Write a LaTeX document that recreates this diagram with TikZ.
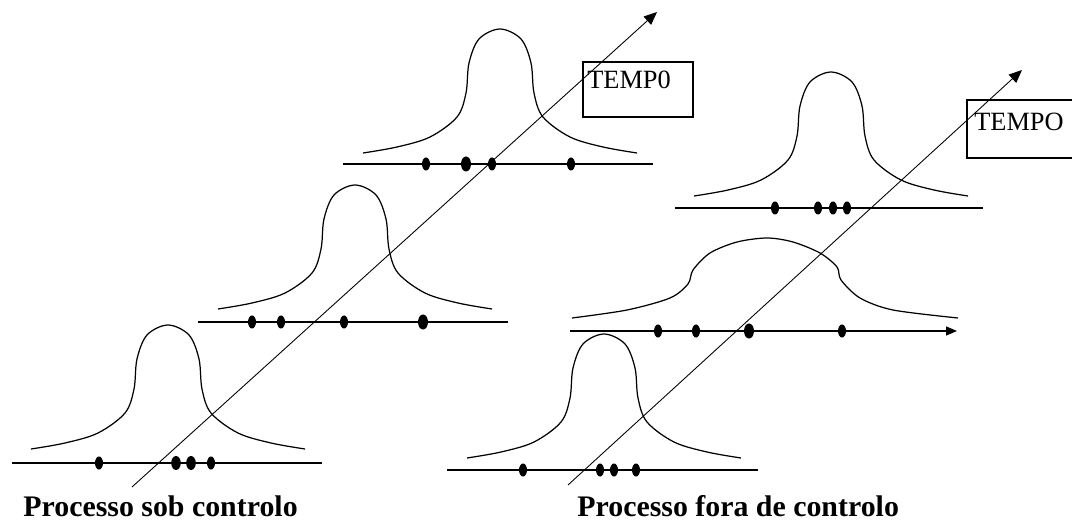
\documentclass[tikz,border=0pt]{standalone}
\usepackage{fontspec}
\setmainfont{Liberation Serif}
\usetikzlibrary{arrows.meta}
\tikzset{
  bell/.pic={\draw[line width=0.7pt] plot[smooth, tension=0.55] coordinates {(-137,0) (-103,-6) (-70,-16) (-43,-36) (-34,-60) (-31,-90) (-21,-114) (0,-124) (21,-114) (31,-90) (34,-60) (43,-36) (70,-16) (103,-6) (137,0)};},
  baseline rule/.style={line width=0.8pt},
  time axis/.style={line width=0.5pt, -{Triangle[length=0.26cm, width=0.22cm]}},
  caption/.style={anchor=base west, inner sep=0pt, font=\bfseries\fontsize{17}{20}\selectfont},
  boxtext/.style={anchor=base west, inner sep=0pt, font=\fontsize{15}{17}\selectfont},
}
\begin{document}
\begin{tikzpicture}[x=0.02cm, y=-0.02cm]
  \useasboundingbox (0,0) rectangle (1072,520);
  \clip (0,0) rectangle (1072,520);
  % processo sob controlo
  \draw[baseline rule] (12,463) -- (322,463);
  \pic at (168,449) {bell};
  \foreach \x in {99,211} \fill (\x,463) ellipse [x radius=4, y radius=6.5];
  \foreach \x in {176,191} \fill (\x,463) ellipse [x radius=4.8, y radius=7];
  \draw[baseline rule] (198,322) -- (508,322);
  \pic at (355,309) {bell};
  \foreach \x in {252,281,344} \fill (\x,322) ellipse [x radius=4, y radius=6.5];
  \fill (423,322) ellipse [x radius=5, y radius=7.5];
  \draw[baseline rule] (343,164) -- (653,164);
  \pic at (500,153) {bell};
  \foreach \x in {426,492,571} \fill (\x,164) ellipse [x radius=4, y radius=6.5];
  \fill (466,164) ellipse [x radius=5, y radius=7.5];
  \draw[line width=0.75pt] (583,62) rectangle (693,117);
  \node[boxtext] (tempoA) at (587,89) {TEMP0};
  \coordinate (axisA0) at (132,487);
  \coordinate (axisA1) at (657,12);
  \draw[time axis] (axisA0) -- (axisA1);
  \node[caption] (sob) at (23,516) {Processo sob controlo};
  % processo fora de controlo
  \draw[baseline rule] (447,470) -- (758,470);
  \pic at (604,458) {bell};
  \foreach \x in {523,600,614,636} \fill (\x,470) ellipse [x radius=4, y radius=6.5];
  \draw[baseline rule, -{Triangle[length=0.22cm, width=0.18cm]}] (570,331) -- (957,331);
  \draw[line width=0.7pt] plot[smooth, tension=0.5] coordinates {(572,318) (627,310) (670,298) (688,284) (693,270) (710,253) (737,242) (767,238) (793,242) (820,253) (837,267) (841,280) (860,298) (893,310) (958,318)};
  \foreach \x in {658,696,842} \fill (\x,331) ellipse [x radius=4, y radius=6.5];
  \fill (749,331) ellipse [x radius=5, y radius=7.5];
  \draw[baseline rule] (675,208) -- (983,208);
  \pic at (831,196) {bell};
  \foreach \x in {775,818,833,847} \fill (\x,208) ellipse [x radius=4, y radius=6.5];
  \draw[line width=0.75pt] (967,100) rectangle (1080,158);
  \node[boxtext] (tempoB) at (974,131) {TEMPO};
  \coordinate (axisB0) at (568,485);
  \coordinate (axisB1) at (1022,70);
  \draw[time axis] (axisB0) -- (axisB1);
  \node[caption] (fora) at (577,516) {Processo fora de controlo};
\end{tikzpicture}
\end{document}
